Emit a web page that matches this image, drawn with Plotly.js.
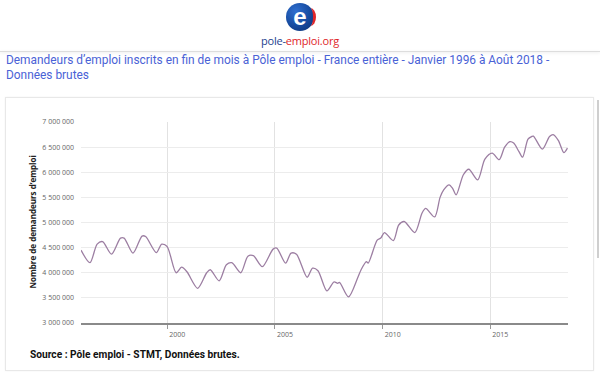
<!DOCTYPE html>
<html>
<head>
<meta charset="utf-8">
<script src="https://cdn.plot.ly/plotly-3.0.1.min.js"></script>
<style>
  html, body { margin:0; padding:0; width:600px; height:378px; overflow:hidden; background:#fff; font-family: Roboto, "Noto Sans", sans-serif; }
  #logo { position:absolute; left:286px; top:3px; width:28px; height:28px; border-radius:50%;
          background: radial-gradient(circle at 35% 30%, #2f6fd0 0%, #164a9e 55%, #0c2f6e 100%); }
  #logo .e { position:absolute; left:0; top:0; width:28px; height:28px; line-height:26px; text-align:center; color:#fff; font: bold 24px "Liberation Sans", Arial, sans-serif; }
  #logo .r { position:absolute; right:-2px; top:5px; width:8px; height:18px; border-radius:50%; border-right:3px solid #e0262a; }
  #brand { position:absolute; left:0; width:600px; top:33px; text-align:center; font: 11px "Open Sans", Roboto, sans-serif; letter-spacing:-0.2px; }
  #brand .b { color:#1d3f8f; } #brand .rr { color:#e0262a; }
  #sep { position:absolute; left:0; top:51px; width:600px; height:1px; background:#ddd; box-shadow:0 1px 3px rgba(0,0,0,0.12); }
  #title { position:absolute; left:6px; top:53px; width:580px; color:#4a62d6; font-size:11.9px; line-height:14.5px; }
  #card { position:absolute; left:5px; top:97px; width:589px; height:274px; border:1px solid #e8e8e8; box-sizing:border-box; box-shadow:0 0 2px rgba(0,0,0,0.05); }
  #scroll { position:absolute; left:597px; top:100px; width:2px; height:158px; background:#cfcfcf; }
  #source { position:absolute; left:30px; top:349px; font-weight:bold; font-size:10.2px; color:#111; }
  #chart { position:absolute; left:0; top:0; width:600px; height:378px; }
</style>
</head>
<body>
<div id="logo"><div class="e">e</div><div class="r"></div></div>
<div id="brand"><span class="b">pole-</span><span class="rr">emploi.org</span></div>
<div id="sep"></div>
<div id="title">Demandeurs d’emploi inscrits en fin de mois à Pôle emploi - France entière - Janvier 1996 à Août 2018 -<br>Données brutes</div>
<div id="card"></div>
<div id="scroll"></div>
<div id="chart"></div>
<div id="source">Source : Pôle emploi - STMT, Données brutes.</div>
<script>
// Data (month, job seekers)
var months = [
 "1996-01","1996-06","1996-10","1997-01","1997-06","1997-11","1998-01","1998-06","1998-11","1999-01",
 "1999-07","1999-10","2000-01","2000-06","2000-09","2000-12","2001-06","2001-11","2002-01","2002-06",
 "2002-10","2003-01","2003-06","2003-10","2004-01","2004-06","2004-12","2005-02","2005-07","2005-10",
 "2006-01","2006-07","2006-10","2007-01","2007-06","2007-10","2007-12","2008-01","2008-06","2008-11",
 "2009-01","2009-04","2009-05","2009-10","2009-12","2010-02","2010-07","2010-10","2011-01","2011-07",
 "2011-11","2012-01","2012-06","2012-09","2012-11","2013-02","2013-04","2013-06","2013-10","2014-01",
 "2014-06","2014-10","2015-02","2015-06","2015-09","2015-12","2016-02","2016-05","2016-07","2016-10",
 "2016-12","2017-01","2017-06","2017-10","2017-12","2018-03","2018-06","2018-08"
];
var demandeurs = [
 4450000,4200000,4570000,4620000,4370000,4690000,4690000,4390000,4730000,4720000,
 4400000,4570000,4520000,4000000,4110000,4020000,3690000,4000000,4060000,3840000,
 4160000,4200000,4000000,4330000,4340000,4120000,4470000,4490000,4190000,4390000,
 4370000,3910000,4090000,4040000,3640000,3820000,3790000,3810000,3520000,3890000,
 4060000,4220000,4190000,4650000,4690000,4800000,4640000,4950000,5020000,4800000,
 5190000,5280000,5110000,5500000,5650000,5750000,5680000,5550000,5950000,6060000,
 5850000,6260000,6380000,6250000,6500000,6610000,6580000,6410000,6300000,6660000,
 6710000,6720000,6460000,6710000,6750000,6630000,6390000,6480000
];
var xTickVals = ["2000-01-01","2005-01-01","2010-01-01","2015-01-01"];
var xTickText = ["2000","2005","2010","2015"];
var yTickVals = [3000000,3500000,4000000,4500000,5000000,5500000,6000000,6500000,7000000];
var yTickText = ["3 000 000","3 500 000","4 000 000","4 500 000","5 000 000","5 500 000","6 000 000","6 500 000","7 000 000"];
var yTitle = "Nombre de demandeurs d’emploi";

var trace = {
  x: months, y: demandeurs, type: "scatter", mode: "lines",
  line: {color: "#9c7ea2", width: 1.3, shape: "spline", smoothing: 0.8},
  hoverinfo: "skip"
};
var layout = {
  width: 600, height: 378,
  margin: {l: 81, r: 32, t: 122, b: 55, pad: 0},
  paper_bgcolor: "rgba(0,0,0,0)", plot_bgcolor: "rgba(0,0,0,0)",
  showlegend: false,
  font: {family: "Open Sans, Roboto, sans-serif", size: 7, color: "#666666"},
  xaxis: {
    type: "date", range: ["1996-01-01", "2018-08-10"],
    tickvals: xTickVals, ticktext: xTickText,
    showgrid: true, gridcolor: "#e2e2e2", gridwidth: 1,
    ticks: "outside", ticklen: 4, tickcolor: "#999999", tickwidth: 1,
    ticklabelshift: 10, ticklabelstandoff: 0,
    showline: true, linecolor: "#8a8a8a", linewidth: 2,
    zeroline: false, fixedrange: true,
    tickfont: {size: 7, color: "#666666", family: "Open Sans, Roboto, sans-serif"}
  },
  yaxis: {
    range: [3000000, 7000000],
    tickvals: yTickVals, ticktext: yTickText,
    showgrid: true, gridcolor: "#ececec", gridwidth: 1,
    ticks: "", showline: false, zeroline: false, fixedrange: true,
    ticklabelstandoff: 6,
    tickfont: {size: 7, color: "#666666", family: "Open Sans, Roboto, sans-serif"}
  },
  annotations: [{
    text: "<b>" + yTitle + "</b>", xref: "paper", yref: "paper",
    x: -0.1006, y: 0.5, xanchor: "center", yanchor: "middle",
    textangle: -90, showarrow: false,
    font: {size: 8, color: "#222", family: "Open Sans, Roboto, sans-serif"}
  }]
};
Plotly.newPlot("chart", [trace], layout, {displayModeBar: false, staticPlot: true});
</script>
</body>
</html>
